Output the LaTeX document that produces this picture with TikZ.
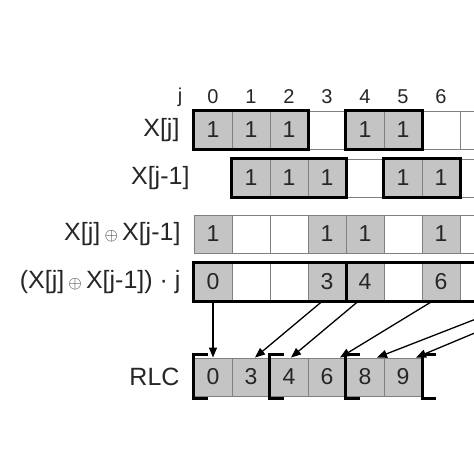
\documentclass[tikz,border=0pt]{standalone}
\usepackage{fontspec}
\setmainfont{Liberation Sans}
\usetikzlibrary{arrows.meta}

\begin{document}
\begin{tikzpicture}[x=1pt,y=-1pt,
        cell/.style={draw=black!50,line width=0.9pt,minimum width=38pt,minimum height=38pt,inner sep=0pt,text=black!85,font=\fontsize{23}{23}\selectfont},
        one/.style={cell,fill=black!23},
        run/.style={draw=black,line width=3pt},
        brk/.style={draw=black,line width=3.2pt},
        rowlab/.style={anchor=east,text=black!85,font=\fontsize{25}{25}\selectfont},
        idx/.style={text=black!85,font=\fontsize{20}{20}\selectfont},
        link/.style={-{Triangle[length=10pt,width=8pt]},line width=1.3pt}]
        \useasboundingbox (0,0) rectangle (474,474);
        \clip (0,0) rectangle (474,474);

        % index j
        \node[idx] (j) at (180,97) {j};
        \foreach \k in {0,...,7}
            \node[idx] (j\k) at (213+38*\k,97) {\k};

        % X[j]
        \node[rowlab] (lx) at (183,130) {X[j]};
        \foreach \k in {0,...,10}
            \node[cell] (a\k) at (213+38*\k,130) {};
        \foreach \k in {0,1,2,4,5,8}
            \node[one] (a\k) at (213+38*\k,130) {1};
        \draw[run] (a0.north west) rectangle (a2.south east);
        \draw[run] (a4.north west) rectangle (a5.south east);
        \draw[run] (a8.north west) rectangle (a8.south east);

        % X[j-1]
        \node[rowlab] (ly) at (193,178) {X[j-1]};
        \foreach \k in {1,...,10}
            \node[cell] (b\k) at (213+38*\k,178) {};
        \foreach \k in {1,2,3,5,6,9}
            \node[one] (b\k) at (213+38*\k,178) {1};
        \draw[run] (b1.north west) rectangle (b3.south east);
        \draw[run] (b5.north west) rectangle (b6.south east);
        \draw[run] (b9.north west) rectangle (b9.south east);

        % xor
        \node[rowlab] (lz) at (184,234) {X[j]\,{\fontsize{17}{17}\selectfont$\oplus$}\,X[j-1]};
        \foreach \k in {0,...,10}
            \node[cell] (c\k) at (213+38*\k,234) {};
        \foreach \k in {0,3,4,6,8,9}
            \node[one] (c\k) at (213+38*\k,234) {1};

        % xor times j
        \node[rowlab] (ld) at (184,282) {(X[j]\,{\fontsize{17}{17}\selectfont$\oplus$}\,X[j-1]) · j};
        \foreach \k in {0,...,10}
            \node[cell] (d\k) at (213+38*\k,282) {};
        \foreach \k in {0,3,4,6,8,9}
            \node[one] (d\k) at (213+38*\k,282) {\k};
        \draw[run] (d0.north west) rectangle (d10.south east);
        \draw[run] (d3.north east) -- (d3.south east);

        % RLC
        \node[rowlab] (lr) at (183,377) {RLC};
        \foreach \v [count=\k from 0] in {0,3,4,6,8,9}
            \node[one] (r\k) at (213+38*\k,377) {\v};
        \foreach \b in {r0.north west,r2.north west,r4.north west,r5.north east}
            \draw[brk] (\b) ++(14,-3) -- ++(-14,0) -- ++(0,44) -- ++(14,0);

        \draw[link] (d0.south) -- (r0.north);
        \foreach \s/\sx/\t/\tx in {d3/-5/r1/4,d4/-7/r2/2,d6/-9/r3/13,d8/4/r4/12,d9/-5/r5/13}
            \draw[link] ([xshift=\sx pt]\s.south) -- ([xshift=\tx pt]\t.north);
\end{tikzpicture}
\end{document}
